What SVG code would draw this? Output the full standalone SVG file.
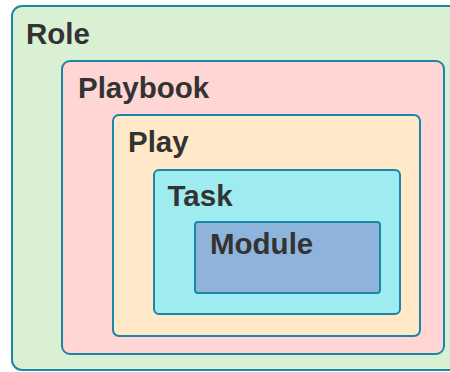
<svg xmlns="http://www.w3.org/2000/svg" width="450" height="372" viewBox="0 0 450 372">
<style>
.box{stroke:#1b86aa;stroke-width:2}
.lbl{font-family:"Liberation Sans",Arial,sans-serif;font-weight:bold;font-size:29.5px;fill:#333333}
</style>
<rect width="450" height="372" fill="#ffffff"/>
<g id="role">
<rect class="box" x="12" y="6" width="460" height="364" rx="10" fill="#d9f0d3"/>
<text class="lbl" x="26" y="44">Role</text>
</g>
<g id="playbook">
<rect class="box" x="62" y="61" width="382" height="293" rx="8" fill="#ffd6d3"/>
<text class="lbl" x="78" y="97.5">Playbook</text>
</g>
<g id="play">
<rect class="box" x="113" y="115" width="307" height="221" rx="6" fill="#ffe9c9"/>
<text class="lbl" x="128" y="151.5">Play</text>
</g>
<g id="task">
<rect class="box" x="154" y="170" width="246" height="144" rx="5" fill="#9eebf0"/>
<text class="lbl" x="167.5" y="206">Task</text>
</g>
<g id="module">
<rect class="box" x="195" y="222" width="185" height="71" rx="3" fill="#8fb4dc"/>
<text class="lbl" x="210" y="253.5">Module</text>
</g>
<g id="connectors"/>
</svg>
